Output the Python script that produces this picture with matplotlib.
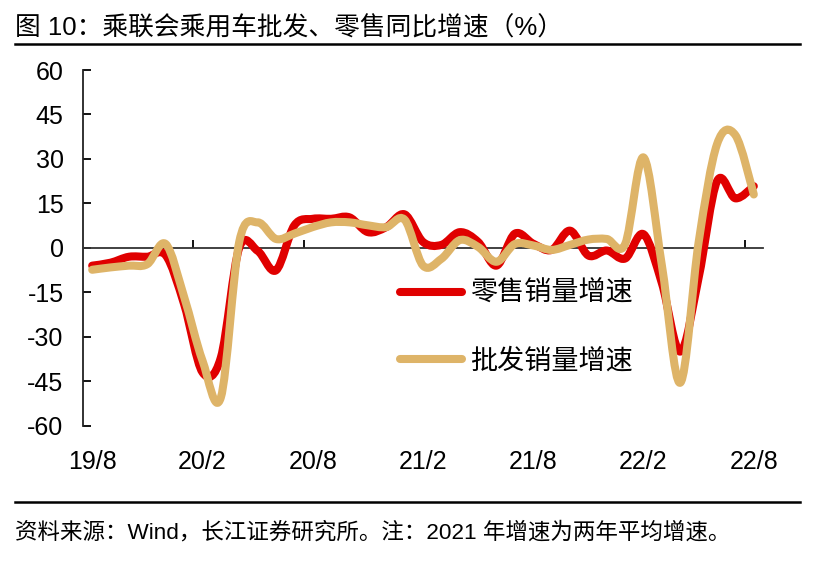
import numpy as np
import matplotlib.pyplot as plt
import matplotlib.transforms as mtransforms
from matplotlib.path import Path
from matplotlib.patches import PathPatch
from matplotlib.lines import Line2D

plt.rcParams['font.family'] = ['Liberation Sans Narrow', 'Liberation Sans', 'Noto Sans CJK SC']
plt.rcParams['axes.unicode_minus'] = False

# monthly data, 2019/8 - 2022/8
tick_labels = ['19/8', '20/2', '20/8', '21/2', '21/8', '22/2', '22/8']
retail = [-6, -5, -3, -3, -2.5,
          -19, -42, -37, 0, -1, -7.6, 7.6, 9.8, 9.8, 10.3, 5.3, 7,
          11.3, 2, 1, 5.3, 2, -6, 4.8, 1.4, -0.7, 5.8, -2.6, -0.9,
          -3.6, 4.6, -12, -35, -10, 22.5, 16.7, 20.8]
wholesale = [-7.4, -6.6, -6, -5.5, 1.3,
             -16.5, -38, -50.5, 2, 8.6, 3, 4.8, 7, 8.6, 8.6, 7.6, 7,
             9.5, -6, -3.7, 2.6, 0.3, -4.7, 1.3, 0.8, -0.7, 1, 2.8, 3,
             1.3, 30.5, -6, -45.5, 2, 35, 38, 18]
series_names = ['零售销量增速', '批发销量增速']
colors = ['#E00000', '#DEB468']


def smooth_path(x, y):
    # catmull-rom style smoothed line (like excel "smoothed line")
    pts = np.column_stack([x, y])
    p = np.vstack([pts[0], pts, pts[-1]])
    verts = [pts[0]]
    codes = [Path.MOVETO]
    for i in range(len(pts) - 1):
        p0, p1, p2, p3 = p[i], p[i + 1], p[i + 2], p[i + 3]
        verts += [p1 + (p2 - p0) / 6, p2 - (p3 - p1) / 6, p2]
        codes += [Path.CURVE4] * 3
    return Path(verts, codes)


fig = plt.figure(figsize=(8.21, 5.68), dpi=100)
ax = fig.add_axes([83 / 821, 1 - 425.7 / 568, 680 / 821, 355.7 / 568])

x = np.arange(len(retail)) + 0.5
for vals, c, z in zip([retail, wholesale], colors, [3, 4]):
    ax.add_patch(PathPatch(smooth_path(x, vals), fill=False, edgecolor=c, lw=5.8,
                           capstyle='round', joinstyle='round', zorder=z))

ax.set_xlim(0, len(retail))
ax.set_ylim(-60, 60)
ax.set_yticks(np.arange(-60, 61, 15))
ax.set_xticks(np.arange(6, len(retail), 6))
ax.set_xticklabels([])
ax.spines['top'].set_visible(False)
ax.spines['right'].set_visible(False)
ax.spines['bottom'].set_position(('data', 0))
ax.spines['bottom'].set_color('#333333')
ax.spines['bottom'].set_linewidth(1.3)
ax.spines['left'].set_color('#222222')
ax.spines['left'].set_linewidth(1.3)
ax.tick_params(axis='y', direction='in', length=6, width=1.3, labelsize=18, pad=14)
ax.tick_params(axis='x', direction='in', length=6, width=1.3)

trans = mtransforms.blended_transform_factory(ax.transData, ax.transAxes)
for k, lab in enumerate(tick_labels):
    ax.text(k * 6 + 0.5, -0.102, lab, transform=trans, ha='center', va='center', fontsize=18)

handles = [Line2D([], [], color=c, lw=5.8, solid_capstyle='round') for c in colors]
ax.legend(handles, series_names, loc='upper left', bbox_to_anchor=(400 / 821, 1 - 280 / 568),
          bbox_transform=fig.transFigure, frameon=False, handlelength=2.3,
          handletextpad=0.3, labelspacing=1.5, borderpad=0, borderaxespad=0,
          prop={'family': ['Noto Sans CJK SC'], 'size': 19.5})

fig.text(15 / 821, 1 - 28 / 568, '图 10：乘联会乘用车批发、零售同比增速（%）', fontsize=18.5,
         ha='left', va='center')
fig.add_artist(Line2D([15 / 821, 800 / 821], [1 - 44 / 568] * 2, color='black', lw=1.8))
fig.add_artist(Line2D([15 / 821, 800 / 821], [1 - 502 / 568] * 2, color='black', lw=1.8))
fig.text(15 / 821, 1 - 533 / 568, '资料来源：Wind，长江证券研究所。注：2021 年增速为两年平均增速。',
         fontsize=16.2, ha='left', va='center')

fig.savefig('out.png', dpi=100)
